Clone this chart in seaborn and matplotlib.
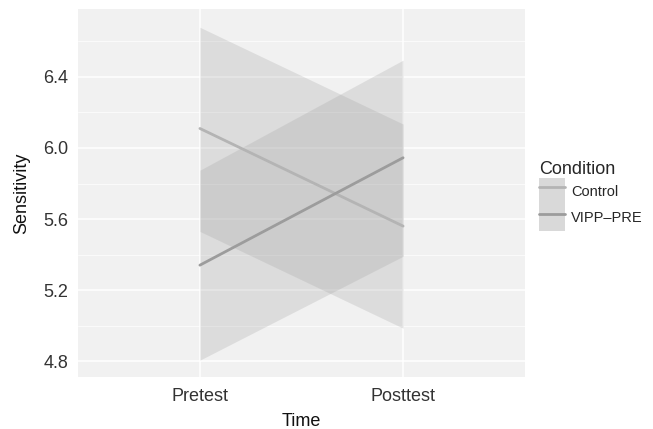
import matplotlib
matplotlib.use("Agg")
import matplotlib.pyplot as plt
from matplotlib.patches import Patch
from matplotlib.lines import Line2D
from matplotlib.legend_handler import HandlerTuple
import seaborn as sns
import pandas as pd
import numpy as np

times = ["Pretest", "Posttest"]
conditions = ["Control", "VIPP\u2013PRE"]
control_mean = [6.11, 5.56]
control_low = [5.53, 4.985]
control_high = [6.68, 6.135]
vipp_mean = [5.34, 5.945]
vipp_low = [4.805, 5.39]
vipp_high = [5.875, 6.495]
line_colors = ["#b4b4b4", "#9c9c9c"]

df = pd.DataFrame({
    "Time": times * 2,
    "Sensitivity": control_mean + vipp_mean,
    "Condition": [conditions[0]] * 2 + [conditions[1]] * 2,
})

sns.set_theme(style="darkgrid")
plt.rcParams["font.family"] = ["Liberation Sans", "DejaVu Sans"]

fig = plt.figure(figsize=(6.53, 4.29), dpi=100)
ax = fig.add_axes([78 / 653, 1 - 377 / 429, (525 - 78) / 653, (377 - 9) / 429])
ax.set_facecolor("#f1f1f1")

xpos = np.arange(len(times))
for lo, hi in [(control_low, control_high), (vipp_low, vipp_high)]:
    ax.fill_between(xpos, lo, hi, color="#a0a0a0", alpha=0.25, linewidth=0, zorder=2)

sns.lineplot(data=df, x="Time", y="Sensitivity", hue="Condition",
             palette=line_colors, linewidth=2, errorbar=None, sort=False,
             ax=ax, legend=False, zorder=3)

ax.set_xlim(-0.6, 1.6)
ax.set_ylim(4.71, 6.783)
ax.set_yticks([4.8, 5.2, 5.6, 6.0, 6.4])
ax.set_yticklabels(["4.8", "5.2", "5.6", "6.0", "6.4"])
ax.set_yticks([5.0, 5.4, 5.8, 6.2, 6.6], minor=True)
ax.set_xticks(xpos)
ax.set_xticklabels(times)
ax.grid(which="major", color="white", linewidth=1.1)
ax.grid(which="minor", axis="y", color="white", linewidth=0.5)
ax.grid(which="minor", axis="x", visible=False)
for s in ax.spines.values():
    s.set_visible(False)
ax.tick_params(axis="both", which="major", length=3, width=0.8, color="#444444",
               labelsize=13, labelcolor="#333333")
ax.tick_params(axis="y", which="major", pad=4)
ax.tick_params(axis="x", which="major", pad=5)
ax.tick_params(axis="both", which="minor", length=0)
ax.set_xlabel("Time", fontsize=13, color="#111111", labelpad=5.5)
ax.set_ylabel("Sensitivity", fontsize=13, color="#111111", labelpad=9)

handles = []
for c in line_colors:
    p = Patch(facecolor="#d9d9d9", edgecolor="none")
    l = Line2D([], [], color=c, linewidth=2)
    handles.append((p, l))
leg = fig.legend(handles, conditions, title="Condition",
                 handler_map={tuple: HandlerTuple(ndivide=1, pad=0)},
                 loc="upper left", bbox_to_anchor=(533 / 653, 1 - 155 / 429),
                 frameon=False, fontsize=10.5, title_fontsize=13,
                 handlelength=1.8, handleheight=2.45, handletextpad=0.4,
                 labelspacing=0.0, borderaxespad=0, alignment="left")

fig.savefig("out.png", dpi=100)
